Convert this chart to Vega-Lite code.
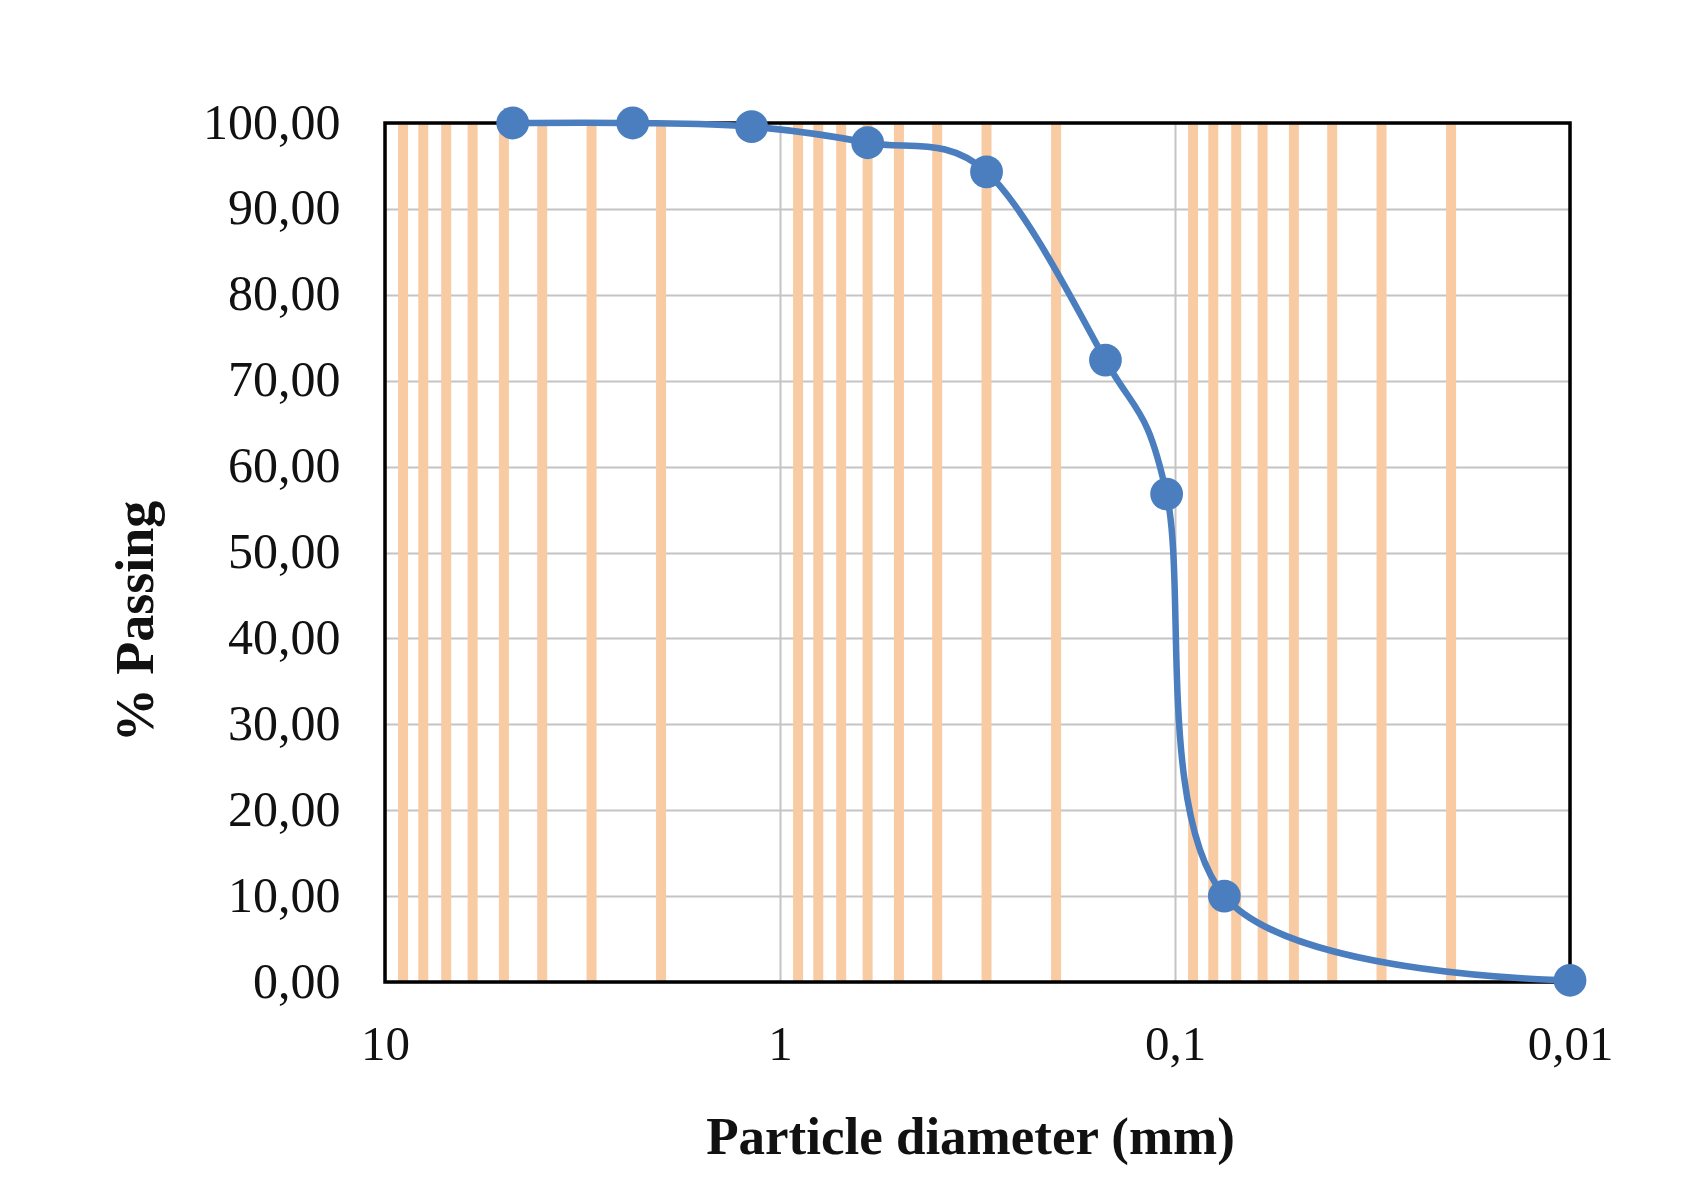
{
  "$schema": "https://vega.github.io/schema/vega-lite/v6.json",
  "width": 1185,
  "height": 859,
  "autosize": {"type": "none"},
  "padding": {"left": 385, "top": 123, "right": 132, "bottom": 210},
  "background": "white",
  "config": {"view": {"stroke": null}, "font": "Liberation Serif"},
  "datasets": {
    "curve": [
      {"d": 4.75, "p": 100},
      {"d": 2.36, "p": 100},
      {"d": 1.18, "p": 99.57},
      {"d": 0.6, "p": 97.7},
      {"d": 0.3, "p": 94.3},
      {"d": 0.15, "p": 72.4},
      {"d": 0.105, "p": 56.8},
      {"d": 0.075, "p": 10.0},
      {"d": 0.01, "p": 0.2}
    ],
    "minor": [
      {"d": 9}, {"d": 8}, {"d": 7}, {"d": 6}, {"d": 5}, {"d": 4}, {"d": 3}, {"d": 2},
      {"d": 0.9}, {"d": 0.8}, {"d": 0.7}, {"d": 0.6}, {"d": 0.5}, {"d": 0.4}, {"d": 0.3}, {"d": 0.2},
      {"d": 0.09}, {"d": 0.08}, {"d": 0.07}, {"d": 0.06}, {"d": 0.05}, {"d": 0.04}, {"d": 0.03}, {"d": 0.02}
    ]
  },
  "layer": [
    {
      "data": {"name": "minor"},
      "mark": {"type": "rule", "color": "#F9CBA3", "strokeWidth": 10},
      "encoding": {
        "x": {
          "field": "d",
          "type": "quantitative",
          "scale": {"type": "log", "domain": [0.01, 10], "reverse": true},
          "axis": {
            "values": [10, 1, 0.1, 0.01],
            "labelExpr": "replace(format(datum.value, '~g'), '.', ',')",
            "grid": true,
            "gridColor": "#C4C4C4",
            "gridWidth": 2,
            "domain": false,
            "ticks": false,
            "labelFontSize": 49,
            "labelColor": "#111111",
            "labelPadding": 38,
            "labelFlush": false,
            "labelOverlap": false,
            "labelBound": false,
            "title": "Particle diameter (mm)",
            "titleFontSize": 53,
            "titleFontWeight": "bold",
            "titleColor": "#111111",
            "titlePadding": 42,
            "titleX": 585,
            "titleAlign": "center"
          }
        },
        "y": {
          "datum": 0,
          "type": "quantitative",
          "scale": {"domain": [0, 100], "nice": false},
          "axis": {
            "values": [0, 10, 20, 30, 40, 50, 60, 70, 80, 90, 100],
            "labelExpr": "replace(format(datum.value, '.2f'), '.', ',')",
            "grid": true,
            "gridColor": "#C4C4C4",
            "gridWidth": 2,
            "domain": false,
            "ticks": false,
            "labelFontSize": 50,
            "labelColor": "#111111",
            "labelPadding": 45,
            "labelFlush": false,
            "labelOverlap": false,
            "title": "% Passing",
            "titleFontSize": 54,
            "titleFontWeight": "bold",
            "titleColor": "#111111",
            "titleX": -249,
            "titleY": 498,
            "titleBaseline": "middle",
            "titleAlign": "center"
          }
        },
        "y2": {"datum": 100}
      }
    },
    {
      "data": {"values": [{}]},
      "mark": {"type": "rect", "fill": null, "fillOpacity": 0, "stroke": "#000000", "strokeWidth": 3.5},
      "encoding": {
        "x": {"datum": 10, "type": "quantitative"},
        "x2": {"datum": 0.01},
        "y": {"datum": 0, "type": "quantitative"},
        "y2": {"datum": 100}
      }
    },
    {
      "data": {"name": "curve"},
      "mark": {"type": "line", "interpolate": "cardinal", "tension": 0, "color": "#4A7EBF", "strokeWidth": 6.5},
      "encoding": {
        "x": {"field": "d", "type": "quantitative"},
        "y": {"field": "p", "type": "quantitative"},
        "order": {"field": "d", "sort": "descending"}
      }
    },
    {
      "data": {"name": "curve"},
      "mark": {"type": "circle", "color": "#4A7EBF", "opacity": 1, "size": 1075},
      "encoding": {
        "x": {"field": "d", "type": "quantitative"},
        "y": {"field": "p", "type": "quantitative"}
      }
    }
  ]
}
